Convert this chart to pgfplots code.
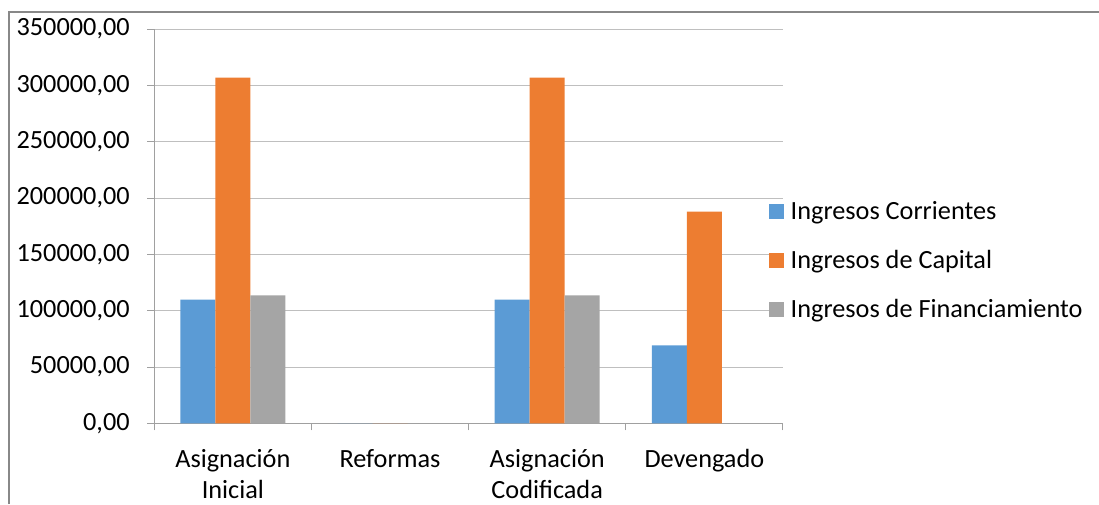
\documentclass[border=0pt]{standalone}
\usepackage{pgfplots}
\pgfplotsset{compat=1.18}
\usepackage{fontspec}
\setmainfont{Carlito}
\definecolor{cBlue}{HTML}{5B9BD5}
\definecolor{cOrange}{HTML}{ED7D31}
\definecolor{cGray}{HTML}{A5A5A5}
\definecolor{cGrid}{HTML}{BFBFBF}
\definecolor{cAxis}{HTML}{A0A0A0}
\definecolor{cBorder}{HTML}{888888}
\newcommand{\lblfont}{\fontsize{19.7}{23.25}\selectfont}
\begin{document}
\begin{tikzpicture}
\useasboundingbox (0,0) rectangle (824.25pt,378pt);
\draw[cBorder, line width=0.8pt] (6.75pt,0pt) -- (6.75pt,369pt) -- (824.25pt,369pt);
\begin{axis}[
  at={(115.7pt,60.5pt)}, anchor=south west,
  scale only axis, width=471.5pt, height=295.7pt,
  ybar=0pt, bar width=26.25pt,
  xmin=-0.5, xmax=3.5, ymin=0, ymax=350000,
  axis lines=left, axis line style={-, cAxis, line width=0.75pt},
  xtick={0,1,2,3},
  xticklabels={{Asignación\\Inicial},{Reformas},{Asignación\\Codificada},{Devengado}},
  minor xtick={-0.5,0.5,1.5,2.5,3.5},
  x tick style={draw=none},
  minor x tick style={draw=cAxis, line width=0.75pt},
  minor tick length=5.25pt,
  ytick={0,50000,...,350000},
  y tick style={draw=cAxis, line width=0.75pt},
  major tick length=5.25pt,
  tick align=outside,
  ymajorgrids, grid style={cGrid, line width=0.75pt},
  scaled y ticks=false,
  /pgf/number format/.cd, fixed, fixed zerofill, precision=2, use comma, 1000 sep={}, assume math mode=true,
  /pgfplots/.cd,
  ticklabel style={font=\lblfont},
  xticklabel style={align=center, anchor=north, yshift=-11pt},
  yticklabel style={anchor=east, inner xsep=0pt, xshift=-13pt},
  legend style={draw=none, fill=none, at={(0.977,0.412)}, anchor=west, font=\lblfont,
    row sep=17.6pt, inner sep=0pt,
    nodes={inner xsep=0pt, inner ysep=2pt}},
  legend cell align=left,
  /tikz/every odd column/.append style={column sep=5.25pt},
  legend image code/.code={\fill[#1] (0pt,-5.625pt) rectangle (11.25pt,5.625pt);},
]
\addplot[fill=cBlue, draw=none] coordinates {(0,109800) (1,0) (2,109800) (3,69300)};
\addplot[fill=cOrange, draw=none] coordinates {(0,307000) (1,0) (2,307000) (3,188000)};
\addplot[fill=cGray, draw=none] coordinates {(0,113700) (1,0) (2,113700) (3,0)};
\legend{Ingresos Corrientes, Ingresos de Capital, Ingresos de Financiamiento}
\end{axis}
\end{tikzpicture}
\end{document}
